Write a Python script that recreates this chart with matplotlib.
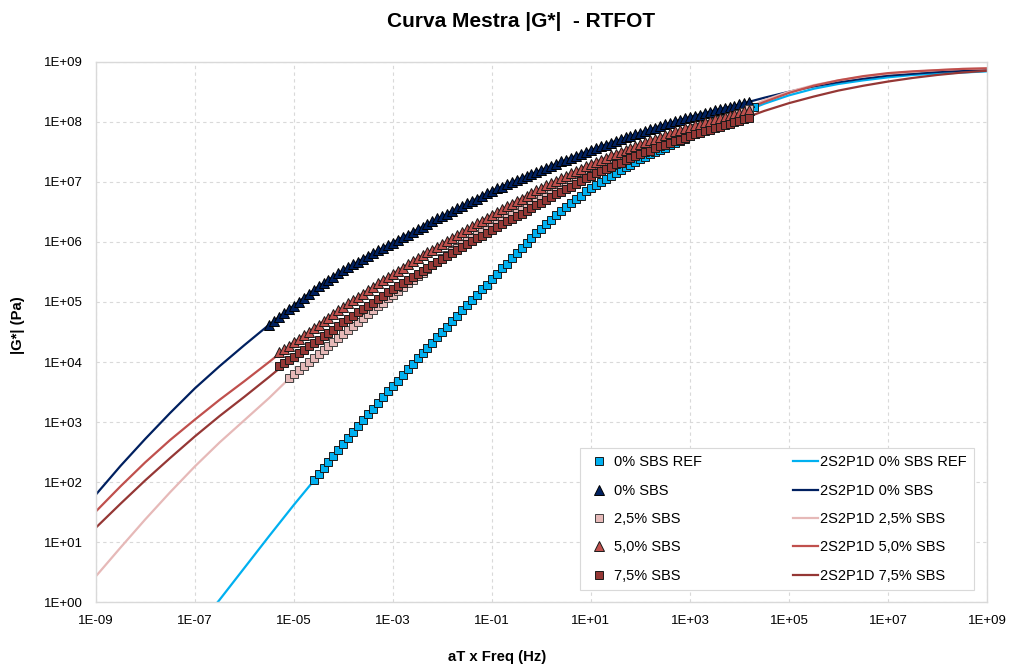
import numpy as np
import matplotlib.pyplot as plt
from matplotlib.lines import Line2D
from matplotlib.ticker import FixedLocator, FuncFormatter, NullLocator

plt.rcParams['font.family'] = ['Liberation Sans', 'DejaVu Sans']

### Dados (log10)
# frequencia reduzida dos pontos medidos, log10(aT x Freq)
logf_pts = [-5.5, -5.4, -5.3, -5.2, -5.1, -5.0, -4.9, -4.8, -4.7, -4.6,
            -4.5, -4.4, -4.3, -4.2, -4.1, -4.0, -3.9, -3.8, -3.7, -3.6,
            -3.5, -3.4, -3.3, -3.2, -3.1, -3.0, -2.9, -2.8, -2.7, -2.6,
            -2.5, -2.4, -2.3, -2.2, -2.1, -2.0, -1.9, -1.8, -1.7, -1.6,
            -1.5, -1.4, -1.3, -1.2, -1.1, -1.0, -0.9, -0.8, -0.7, -0.6,
            -0.5, -0.4, -0.3, -0.2, -0.1, 0.0, 0.1, 0.2, 0.3, 0.4,
            0.5, 0.6, 0.7, 0.8, 0.9, 1.0, 1.1, 1.2, 1.3, 1.4,
            1.5, 1.6, 1.7, 1.8, 1.9, 2.0, 2.1, 2.2, 2.3, 2.4,
            2.5, 2.6, 2.7, 2.8, 2.9, 3.0, 3.1, 3.2, 3.3, 3.4,
            3.5, 3.6, 3.7, 3.8, 3.9, 4.0, 4.1, 4.2, 4.3]

# log10 |G*| dos pontos; primeiro ponto em logf_pts[inicio]
ref_start = 9      # -4.6
g_ref = [2.04, 2.14, 2.24, 2.34, 2.44, 2.54, 2.64, 2.74, 2.84, 2.93,
         3.03, 3.13, 3.22, 3.32, 3.41, 3.51, 3.60, 3.69, 3.78, 3.88,
         3.97, 4.06, 4.15, 4.24, 4.32, 4.41, 4.50, 4.59, 4.68, 4.77,
         4.86, 4.95, 5.04, 5.12, 5.21, 5.29, 5.38, 5.47, 5.56, 5.64,
         5.73, 5.82, 5.90, 5.98, 6.06, 6.14, 6.22, 6.29, 6.36, 6.44,
         6.51, 6.58, 6.64, 6.71, 6.77, 6.84, 6.90, 6.95, 7.00, 7.04,
         7.09, 7.14, 7.19, 7.24, 7.28, 7.33, 7.38, 7.42, 7.46, 7.49,
         7.53, 7.57, 7.61, 7.65, 7.68, 7.72, 7.76, 7.80, 7.84, 7.87,
         7.91, 7.95, 7.99, 8.02, 8.06, 8.09, 8.13, 8.17, 8.20, 8.24]

sbs0_start = 0     # -5.5
g_sbs0 = [4.62, 4.68, 4.75, 4.81, 4.88, 4.94, 5.00, 5.07, 5.13, 5.20,
          5.26, 5.31, 5.37, 5.42, 5.48, 5.53, 5.58, 5.63, 5.67, 5.72,
          5.77, 5.81, 5.86, 5.90, 5.95, 5.99, 6.03, 6.08, 6.12, 6.17,
          6.21, 6.25, 6.30, 6.34, 6.39, 6.43, 6.47, 6.51, 6.56, 6.60,
          6.64, 6.68, 6.72, 6.77, 6.81, 6.85, 6.89, 6.92, 6.96, 6.99,
          7.03, 7.06, 7.10, 7.13, 7.17, 7.20, 7.23, 7.27, 7.30, 7.34,
          7.37, 7.40, 7.43, 7.47, 7.50, 7.53, 7.56, 7.59, 7.62, 7.65,
          7.68, 7.71, 7.74, 7.76, 7.79, 7.82, 7.85, 7.88, 7.90, 7.93,
          7.96, 7.98, 8.01, 8.03, 8.06, 8.08, 8.10, 8.12, 8.15, 8.17,
          8.19, 8.21, 8.23, 8.25, 8.27, 8.29, 8.31, 8.33]

sbs25_start = 4    # -5.1
g_sbs25 = [3.73, 3.80, 3.87, 3.93, 4.00, 4.06, 4.13, 4.20, 4.27, 4.33,
           4.40, 4.47, 4.54, 4.60, 4.67, 4.73, 4.80, 4.86, 4.93, 4.99,
           5.06, 5.12, 5.18, 5.25, 5.31, 5.37, 5.43, 5.49, 5.55, 5.61,
           5.67, 5.73, 5.79, 5.85, 5.90, 5.96, 6.02, 6.08, 6.13, 6.19,
           6.24, 6.30, 6.35, 6.40, 6.45, 6.50, 6.55, 6.60, 6.64, 6.69,
           6.73, 6.78, 6.82, 6.87, 6.91, 6.96, 7.00, 7.04, 7.08, 7.12,
           7.16, 7.20, 7.24, 7.27, 7.31, 7.34, 7.38, 7.41, 7.45, 7.48,
           7.52, 7.55, 7.58, 7.61, 7.65, 7.68, 7.71, 7.74, 7.77, 7.80,
           7.83, 7.86, 7.89, 7.92, 7.94, 7.97, 8.00, 8.03, 8.05, 8.08,
           8.10, 8.13, 8.17, 8.22]

sbs50_start = 2    # -5.3
g_sbs50 = [4.16, 4.22, 4.27, 4.33, 4.39, 4.45, 4.50, 4.56, 4.62, 4.68,
           4.74, 4.80, 4.86, 4.92, 4.98, 5.03, 5.09, 5.14, 5.20, 5.25,
           5.31, 5.36, 5.42, 5.47, 5.52, 5.57, 5.63, 5.68, 5.73, 5.78,
           5.83, 5.87, 5.92, 5.97, 6.02, 6.07, 6.11, 6.16, 6.21, 6.26,
           6.31, 6.35, 6.40, 6.45, 6.50, 6.54, 6.59, 6.63, 6.68, 6.72,
           6.77, 6.81, 6.86, 6.90, 6.94, 6.98, 7.02, 7.06, 7.10, 7.14,
           7.18, 7.22, 7.26, 7.30, 7.33, 7.37, 7.40, 7.44, 7.47, 7.50,
           7.53, 7.57, 7.60, 7.63, 7.66, 7.69, 7.72, 7.75, 7.78, 7.81,
           7.84, 7.86, 7.89, 7.92, 7.94, 7.97, 7.99, 8.02, 8.04, 8.06,
           8.08, 8.11, 8.13, 8.15, 8.18, 8.20]

sbs75_start = 2    # -5.3
g_sbs75 = [3.93, 3.98, 4.04, 4.09, 4.15, 4.20, 4.26, 4.31, 4.37, 4.43,
           4.49, 4.54, 4.60, 4.66, 4.72, 4.77, 4.83, 4.88, 4.94, 4.99,
           5.05, 5.10, 5.16, 5.21, 5.26, 5.31, 5.37, 5.42, 5.47, 5.52,
           5.57, 5.62, 5.67, 5.72, 5.77, 5.82, 5.86, 5.91, 5.96, 6.01,
           6.06, 6.10, 6.15, 6.20, 6.25, 6.29, 6.34, 6.38, 6.43, 6.47,
           6.52, 6.56, 6.61, 6.65, 6.70, 6.74, 6.79, 6.83, 6.88, 6.92,
           6.97, 7.01, 7.06, 7.10, 7.14, 7.18, 7.21, 7.25, 7.29, 7.32,
           7.36, 7.39, 7.43, 7.46, 7.49, 7.52, 7.56, 7.59, 7.62, 7.65,
           7.68, 7.70, 7.73, 7.76, 7.79, 7.82, 7.84, 7.87, 7.90, 7.92,
           7.95, 7.97, 8.00, 8.02, 8.05, 8.07]

# curvas 2S2P1D, log10(aT x Freq) de -9 a 9
line_logf = [-9.0, -8.5, -8.0, -7.5, -7.0, -6.5, -6.0, -5.5, -5.0, -4.5,
             -4.0, -3.5, -3.0, -2.5, -2.0, -1.5, -1.0, -0.5, 0.0, 0.5,
             1.0, 1.5, 2.0, 2.5, 3.0, 3.5, 4.0, 4.5, 5.0, 5.5,
             6.0, 6.5, 7.0, 7.5, 8.0, 8.5, 9.0]

fit_ref = [-0.47, 0.04, 0.57, 1.10, 1.62, 2.12,          # a partir de -7.0
           2.64, 3.13, 3.60, 4.06, 4.50, 4.95, 5.38, 5.82, 6.22, 6.58,
           6.90, 7.14, 7.38, 7.57, 7.76, 7.95, 8.14, 8.30, 8.44, 8.55,
           8.63, 8.69, 8.74, 8.78, 8.80, 8.82, 8.84]
fit_sbs0 = [1.79, 2.27, 2.72, 3.15, 3.56, 3.93, 4.28, 4.62, 4.94, 5.26,
            5.53, 5.77, 5.99, 6.21, 6.43, 6.64, 6.85, 7.03, 7.20, 7.37,
            7.53, 7.68, 7.82, 7.96, 8.08, 8.19, 8.29, 8.40, 8.50, 8.59,
            8.66, 8.72, 8.77, 8.80, 8.83, 8.85, 8.86]
fit_sbs25 = [0.43, 0.91, 1.38, 1.83, 2.26, 2.66, 3.03, 3.40, 3.80, 4.13,
             4.47, 4.80, 5.12, 5.43, 5.73, 6.02, 6.30, 6.55, 6.78, 7.00,
             7.20, 7.38, 7.55, 7.71, 7.86, 8.00, 8.16, 8.36, 8.50, 8.61,
             8.69, 8.75, 8.80, 8.83, 8.86, 8.88, 8.89]
fit_sbs50 = [1.51, 1.93, 2.33, 2.70, 3.04, 3.37, 3.68, 4.00, 4.33, 4.62,
             4.92, 5.20, 5.47, 5.73, 5.97, 6.21, 6.45, 6.68, 6.90, 7.10,
             7.30, 7.47, 7.63, 7.78, 7.92, 8.04, 8.16, 8.33, 8.48, 8.60,
             8.69, 8.76, 8.81, 8.84, 8.86, 8.88, 8.89]
fit_sbs75 = [1.24, 1.64, 2.03, 2.40, 2.76, 3.10, 3.42, 3.75, 4.09, 4.37,
             4.66, 4.94, 5.21, 5.47, 5.72, 5.96, 6.20, 6.43, 6.65, 6.88,
             7.10, 7.29, 7.46, 7.62, 7.76, 7.90, 8.03, 8.18, 8.31, 8.42,
             8.52, 8.60, 8.67, 8.73, 8.78, 8.82, 8.85]

### Estilos
c_ref = '#00B0F0'
c_sbs0 = '#002060'
c_sbs25 = '#E6B9B8'
c_sbs50 = '#C0504D'
c_sbs75 = '#953735'

fig = plt.figure(figsize=(10.12, 6.68), dpi=100)
ax = fig.add_axes([0.0946, 0.0984, 0.8807, 0.8092])

def pts(start, g):
    lf = np.array(logf_pts[start:start + len(g)])
    return 10.0 ** lf, 10.0 ** np.array(g)

# linhas do modelo (por baixo dos pontos)
lw = 1.6
ax.plot(10.0 ** np.array(line_logf[4:]), 10.0 ** np.array(fit_ref), color=c_ref, lw=lw, zorder=2)
ax.plot(10.0 ** np.array(line_logf), 10.0 ** np.array(fit_sbs0), color=c_sbs0, lw=lw, zorder=2)
ax.plot(10.0 ** np.array(line_logf), 10.0 ** np.array(fit_sbs25), color=c_sbs25, lw=lw, zorder=2)
ax.plot(10.0 ** np.array(line_logf), 10.0 ** np.array(fit_sbs50), color=c_sbs50, lw=lw, zorder=2)
ax.plot(10.0 ** np.array(line_logf), 10.0 ** np.array(fit_sbs75), color=c_sbs75, lw=lw, zorder=2)

# pontos medidos
ms_sq = 6.2
ms_tr = 7.4
mew = 0.7
x, y = pts(ref_start, g_ref)
ax.plot(x, y, ls='none', marker='s', ms=ms_sq, mfc=c_ref, mec='#1a1a1a', mew=mew, zorder=3)
x, y = pts(sbs0_start, g_sbs0)
ax.plot(x, y, ls='none', marker='^', ms=ms_tr, mfc=c_sbs0, mec='#000000', mew=mew, zorder=3)
x, y = pts(sbs25_start, g_sbs25)
ax.plot(x, y, ls='none', marker='s', ms=ms_sq, mfc=c_sbs25, mec='#404040', mew=mew, zorder=3)
x, y = pts(sbs50_start, g_sbs50)
ax.plot(x, y, ls='none', marker='^', ms=ms_tr, mfc=c_sbs50, mec='#1a1a1a', mew=mew, zorder=3)
x, y = pts(sbs75_start, g_sbs75)
ax.plot(x, y, ls='none', marker='s', ms=ms_sq, mfc=c_sbs75, mec='#1a1a1a', mew=mew, zorder=3)

### Eixos
ax.set_xscale('log')
ax.set_yscale('log')
ax.set_xlim(1e-9, 1e9)
ax.set_ylim(1e0, 1e9)

fmt = FuncFormatter(lambda v, p: '1E%+03d' % int(round(np.log10(v))))
ax.xaxis.set_major_locator(FixedLocator([10.0 ** k for k in range(-9, 10, 2)]))
ax.yaxis.set_major_locator(FixedLocator([10.0 ** k for k in range(0, 10)]))
ax.xaxis.set_minor_locator(NullLocator())
ax.yaxis.set_minor_locator(NullLocator())
ax.xaxis.set_major_formatter(fmt)
ax.yaxis.set_major_formatter(fmt)
ax.tick_params(axis='both', length=0, labelsize=9.5, colors='#000000')
ax.tick_params(axis='x', pad=9)
ax.tick_params(axis='y', pad=9)

ax.grid(True, color='#D9D9D9', lw=0.8, linestyle=(0, (3, 3)), zorder=0)
ax.set_axisbelow(True)
for s in ax.spines.values():
    s.set_color('#D9D9D9')
    s.set_linewidth(1.0)

fig.text(0.515, 0.968, 'Curva Mestra |G*|  - RTFOT', ha='center', va='center',
         fontsize=15, fontweight='bold')
fig.text(0.491, 0.0165, 'aT x Freq (Hz)', ha='center', va='center',
         fontsize=10.7, fontweight='bold')
fig.text(0.018, 0.5135, '|G*| (Pa)', ha='center', va='center', rotation=90,
         fontsize=10.7, fontweight='bold')

### Legenda
handles = [
    Line2D([], [], ls='none', marker='s', ms=6, mfc=c_ref, mec='#1a1a1a', mew=0.7),
    Line2D([], [], ls='none', marker='^', ms=7, mfc=c_sbs0, mec='#000000', mew=0.7),
    Line2D([], [], ls='none', marker='s', ms=6, mfc=c_sbs25, mec='#404040', mew=0.7),
    Line2D([], [], ls='none', marker='^', ms=7, mfc=c_sbs50, mec='#1a1a1a', mew=0.7),
    Line2D([], [], ls='none', marker='s', ms=6, mfc=c_sbs75, mec='#1a1a1a', mew=0.7),
    Line2D([], [], color=c_ref, lw=lw),
    Line2D([], [], color=c_sbs0, lw=lw),
    Line2D([], [], color=c_sbs25, lw=lw),
    Line2D([], [], color=c_sbs50, lw=lw),
    Line2D([], [], color=c_sbs75, lw=lw),
]
labels = ['0% SBS REF', '0% SBS', '2,5% SBS', '5,0% SBS', '7,5% SBS',
          '2S2P1D 0% SBS REF', '2S2P1D 0% SBS', '2S2P1D 2,5% SBS',
          '2S2P1D 5,0% SBS', '2S2P1D 7,5% SBS']
leg = ax.legend(handles, labels, ncol=2, loc='lower right',
                bbox_to_anchor=(0.9854, 0.0228), fontsize=10.5,
                frameon=True, fancybox=False, framealpha=1,
                edgecolor='#D9D9D9', borderpad=0.5, labelspacing=0.98,
                handlelength=1.7, handletextpad=0.15, columnspacing=6.25,
                borderaxespad=0)
leg.get_frame().set_linewidth(0.8)

fig.savefig('out.png', dpi=100)
